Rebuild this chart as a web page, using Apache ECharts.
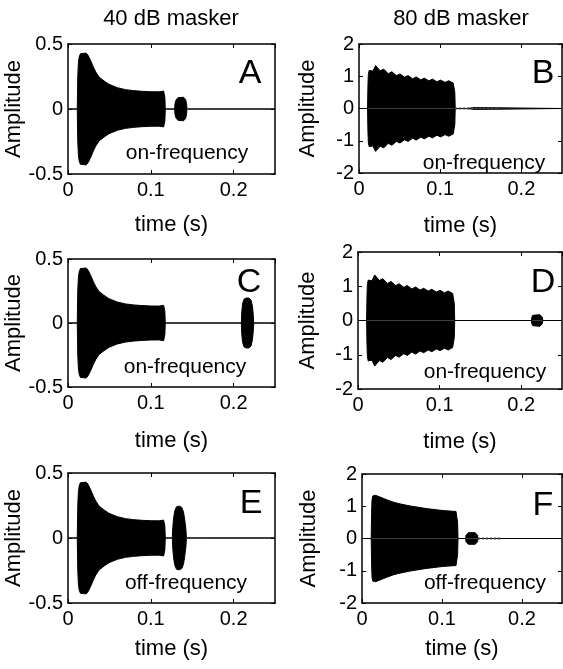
<!DOCTYPE html>
<html>
<head>
<meta charset="utf-8">
<script src="https://cdn.jsdelivr.net/npm/echarts@6/dist/echarts.min.js"></script>
<style>
html, body { margin: 0; padding: 0; background: #fff; }
#chart { width: 563px; height: 669px; }
</style>
</head>
<body>
<div id="chart"></div>
<script>
// envelope of the waveforms, [time (s), amplitude]
var masker40 = [[0, 0], [0.0112, 0], [0.0118, 0.25], [0.0125, 0.35], [0.0135, 0.4], [0.015, 0.425], [0.017, 0.43],
	[0.022, 0.43], [0.0245, 0.41], [0.0275, 0.37], [0.0305, 0.325], [0.0335, 0.285], [0.0375, 0.246], [0.0435, 0.216],
	[0.0495, 0.19], [0.0595, 0.164], [0.0695, 0.149], [0.0795, 0.141], [0.0895, 0.136], [0.1, 0.133], [0.11, 0.132],
	[0.1155, 0.138], [0.1165, 0.14], [0.117, 0.09], [0.1175, 0]];
var masker80 = [[0, 0], [0.0105, 0], [0.011, 0.7], [0.0115, 1.05], [0.0125, 1.18], [0.0145, 1.2], [0.017, 1.16],
	[0.0205, 1.33], [0.0225, 1.3], [0.026, 1.17], [0.0305, 1.22], [0.036, 1.08], [0.0405, 1.14], [0.046, 1.02],
	[0.0505, 1.07], [0.056, 0.97], [0.0605, 1.02], [0.066, 0.92], [0.0705, 0.98], [0.076, 0.89], [0.0805, 0.94],
	[0.086, 0.86], [0.0905, 0.91], [0.096, 0.83], [0.1005, 0.88], [0.106, 0.81], [0.1105, 0.86], [0.116, 0.79],
	[0.1175, 0.8], [0.118, 0.5], [0.1185, 0]];
var masker80off = [[0, 0], [0.0115, 0], [0.012, 0.8], [0.0125, 1.2], [0.0135, 1.32], [0.015, 1.35], [0.017, 1.34],
	[0.02, 1.31], [0.025, 1.26], [0.03, 1.21], [0.04, 1.12], [0.05, 1.06], [0.06, 1.01], [0.07, 0.97], [0.08, 0.93],
	[0.09, 0.9], [0.1, 0.87], [0.11, 0.85], [0.1175, 0.84], [0.119, 0.86], [0.1195, 0.5], [0.12, 0]];

var probeA = [[0.1288, 0], [0.1292, 0.04], [0.1305, 0.07], [0.133, 0.088], [0.1395, 0.09], [0.142, 0.075], [0.1432, 0.04], [0.1437, 0]];
var probeB = [[0.133, 0], [0.1335, 0.03], [0.143, 0.03], [0.1435, 0]];
var probeC = [[0.2094, 0], [0.2098, 0.08], [0.2108, 0.15], [0.2125, 0.185], [0.215, 0.195], [0.2185, 0.195],
	[0.221, 0.18], [0.2228, 0.13], [0.2238, 0.06], [0.2243, 0]];
var probeD = [[0.2125, 0], [0.213, 0.09], [0.214, 0.15], [0.216, 0.17], [0.223, 0.17], [0.225, 0.15], [0.226, 0.09], [0.2265, 0]];
var probeE = [[0.126, 0], [0.1265, 0.08], [0.1275, 0.15], [0.129, 0.21], [0.131, 0.24], [0.1345, 0.245],
	[0.1375, 0.235], [0.1395, 0.2], [0.141, 0.14], [0.1425, 0.06], [0.143, 0]];
var probeF = [[0.1296, 0], [0.13, 0.1], [0.131, 0.16], [0.133, 0.18], [0.1415, 0.18], [0.1435, 0.16], [0.1445, 0.1], [0.1448, 0]];

// faint ringing after the probe, [from, to] in s
var ringA = [0.1437, 0.172];
var ringB = [0.1185, 0.172];
var ringE = [0.143, 0.171];
var ringF = [0.1448, 0.174];

var timeEnd = 0.25;
var xTicks = [0, 0.1, 0.2];
var yRange40 = [-0.5, 0.5, 0.5];
var yRange80 = [-2, 2, 1];

var letters = ["A", "B", "C", "D", "E", "F"];
var conditions = ["on-frequency", "on-frequency", "on-frequency", "on-frequency", "off-frequency", "off-frequency"];
var columnTitles = ["40 dB masker", "80 dB masker"];

var FONT = "'Liberation Sans', Arial, sans-serif";

var panels = [
	{ masker: masker40, probe: probeA, ring: ringA, y: yRange40, box: [68, 44, 207, 130], yGap: 35, xGap: 40, letter: [250, 74], cond: [187, 153] },
	{ masker: masker80, probe: probeB, ring: ringB, y: yRange80, box: [359, 44, 203, 129], yGap: 40, xGap: 42, letter: [543, 74], cond: [484, 163] },
	{ masker: masker40, probe: probeC, ring: null, y: yRange40, box: [68, 259, 207, 128], yGap: 35, xGap: 43, letter: [249, 283], cond: [185, 367] },
	{ masker: masker80, probe: probeD, ring: null, y: yRange80, box: [358, 252, 204, 137], yGap: 39, xGap: 42, letter: [543, 283], cond: [485, 372] },
	{ masker: masker40, probe: probeE, ring: ringE, y: yRange40, box: [68, 473, 207, 130], yGap: 35, xGap: 35, letter: [251, 504], cond: [186, 583] },
	{ masker: masker80off, probe: probeF, ring: ringF, y: yRange80, box: [362, 474, 200, 129], yGap: 42, xGap: 35, letter: [543, 506], cond: [485, 583] }
];

var chart = echarts.init(document.getElementById("chart"), null, { renderer: "canvas" });

var grids = [], xAxes = [], yAxes = [], series = [], graphics = [];
var frame = { show: true, onZero: false, lineStyle: { color: "#000", width: 1.5 } };
var ticks = { show: true, inside: true, length: 4, lineStyle: { color: "#000", width: 1 } };

panels.forEach(function(p, i) {
	grids.push({ left: p.box[0], top: p.box[1], width: p.box[2], height: p.box[3] });

	xAxes.push({
		gridIndex: i, type: "value", position: "bottom", min: 0, max: timeEnd, interval: 0.1,
		axisLine: frame, axisTick: ticks, splitLine: { show: false },
		axisLabel: {
			color: "#000", fontSize: 20, fontFamily: FONT, margin: 6, showMaxLabel: false,
			formatter: function(v) {
				for (var k = 0; k < xTicks.length; k++) {
					if (Math.abs(v - xTicks[k]) < 1e-9) return String(xTicks[k]);
				}
				return "";
			}
		},
		name: "time (s)", nameLocation: "middle", nameGap: p.xGap,
		nameTextStyle: { color: "#000", fontSize: 22, fontFamily: FONT }
	});
	xAxes.push({
		gridIndex: i, type: "value", position: "top", min: 0, max: timeEnd, interval: 0.1,
		axisLine: frame, axisTick: ticks, axisLabel: { show: false }, splitLine: { show: false }
	});

	yAxes.push({
		gridIndex: i, type: "value", position: "left", min: p.y[0], max: p.y[1], interval: p.y[2],
		axisLine: frame, axisTick: ticks, splitLine: { show: false },
		axisLabel: { color: "#000", fontSize: 20, fontFamily: FONT, margin: 5 },
		name: "Amplitude", nameLocation: "middle", nameRotate: 90, nameGap: p.yGap,
		nameTextStyle: { color: "#000", fontSize: 22, fontFamily: FONT }
	});
	yAxes.push({
		gridIndex: i, type: "value", position: "right", min: p.y[0], max: p.y[1], interval: p.y[2],
		axisLine: frame, axisTick: ticks, axisLabel: { show: false }, splitLine: { show: false }
	});

	var env = p.masker.concat(p.probe, [[timeEnd, 0]]);
	var neg = env.map(function(d) { return [d[0], -d[1]]; });
	[env, neg].forEach(function(data) {
		series.push({
			type: "line", xAxisIndex: 2 * i, yAxisIndex: 2 * i, data: data,
			symbol: "none", smooth: false, silent: true,
			lineStyle: { color: "#000", width: 1 },
			areaStyle: { color: "#000", opacity: 1, origin: 0 }
		});
	});
	if (p.ring) {
		series.push({
			type: "line", xAxisIndex: 2 * i, yAxisIndex: 2 * i,
			data: [[p.ring[0], 0], [p.ring[1], 0]],
			symbol: "none", silent: true,
			lineStyle: { color: "#444", width: 2, type: [2, 2] }
		});
	}

	graphics.push({
		type: "text", x: p.letter[0], y: p.letter[1],
		style: { text: letters[i], font: "34px " + FONT, fill: "#000", align: "center", verticalAlign: "middle" }
	});
	graphics.push({
		type: "text", x: p.cond[0], y: p.cond[1],
		style: { text: conditions[i], font: "21px " + FONT, fill: "#000", align: "center", verticalAlign: "middle" }
	});
});

graphics.push({
	type: "text", x: 171, y: 19,
	style: { text: columnTitles[0], font: "22px " + FONT, fill: "#000", align: "center", verticalAlign: "middle" }
});
graphics.push({
	type: "text", x: 461, y: 19,
	style: { text: columnTitles[1], font: "22px " + FONT, fill: "#000", align: "center", verticalAlign: "middle" }
});

chart.setOption({
	animation: false,
	backgroundColor: "#fff",
	grid: grids,
	xAxis: xAxes,
	yAxis: yAxes,
	series: series,
	graphic: graphics
});
</script>
</body>
</html>
